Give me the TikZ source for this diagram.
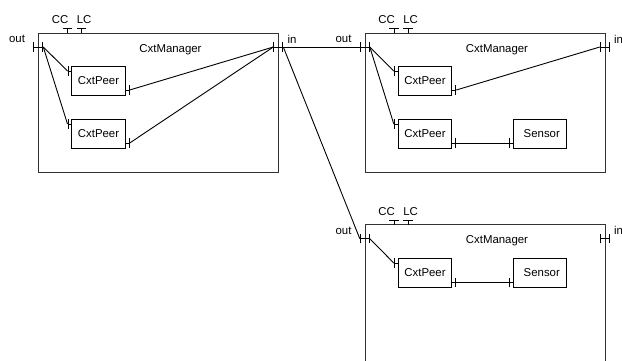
\documentclass[tikz,border=0pt]{standalone}
\usepackage{fontspec}
\setmainfont{Liberation Sans}
\usetikzlibrary{arrows.meta}
\tikzset{
  x=1pt,y=-1pt,
  every node/.style={font=\fontsize{11.4}{13}\selectfont,inner sep=0pt,outer sep=0pt},
  mgrbox/.style={draw=black!80,line width=1pt,minimum width=240pt,anchor=north west},
  peerbox/.style={draw=black,line width=1pt,minimum width=53.3pt,minimum height=29pt},
  wire/.style={line width=0.9pt},
  portbar/.style={line width=0.9pt,{Bar[width=9.5pt,line width=0.9pt]}-{Bar[width=9.5pt,line width=0.9pt]}},
  stub/.style={line width=0.9pt,-{Bar[width=9.5pt,line width=0.9pt]}},
}
\newcommand{\MgrPorts}[3]{% prefix, x of box, y of box
  \coordinate (#1oo) at (#2-5.2,#3+14);
  \coordinate (#1oi) at (#2+4.8,#3+14);
  \coordinate (#1ii) at (#2+234.8,#3+14);
  \coordinate (#1io) at (#2+244.8,#3+14);
  \coordinate (#1cc) at (#2+29,#3-4.7);
  \coordinate (#1lc) at (#2+43.2,#3-4.7);
  \draw[portbar] (#1oo) -- (#1oi);
  \draw[portbar] (#1ii) -- (#1io);
  \draw[stub] (#1cc |- #1.north) -- (#1cc);
  \draw[stub] (#1lc |- #1.north) -- (#1lc);
  \node (#1tcc) at (#2+21.6,#3-13) {CC};
  \node (#1tlc) at (#2+45.6,#3-13) {LC};
  \node (#1tout) at (#2-21.5,#3+6) {out};
  \node (#1tin) at (#2+253.5,#3+6) {in};
  \node (#1title) at (#2+132,#3+16.2) {CxtManager};
}
\newcommand{\Lowered}[1]{\raisebox{-0.8pt}{#1}}
\begin{document}
\begin{tikzpicture}
\useasboundingbox (0,0) rectangle (622,360);
\clip (0,0) rectangle (622,360);
% managers
\node[mgrbox,minimum height=139pt] (A) at (38.5,33) {};
\node[mgrbox,minimum height=139pt] (B) at (365,33) {};
\node[mgrbox,minimum height=160pt] (C) at (365,224.7) {};
\MgrPorts{A}{38.5}{33}
\MgrPorts{B}{365}{33}
\MgrPorts{C}{365}{224.7}
% peers
\node[peerbox] (p1) at (98.5,80.5) {\Lowered{CxtPeer}};
\node[peerbox] (p2) at (98.5,133.5) {\Lowered{CxtPeer}};
\node[peerbox] (p3) at (425,80.5) {\Lowered{CxtPeer}};
\node[peerbox] (p4) at (425,133.5) {\Lowered{CxtPeer}};
\node[peerbox] (s4) at (540.3,133.5) {\hspace*{3pt}\Lowered{Sensor}};
\node[peerbox] (p5) at (425,272.8) {\Lowered{CxtPeer}};
\node[peerbox] (s5) at (540.3,272.8) {\hspace*{3pt}\Lowered{Sensor}};
% peer ports
\coordinate (p1l) at (67.5,71);   \coordinate (p1r) at (129.7,90);
\coordinate (p2l) at (67.5,124);  \coordinate (p2r) at (129.7,143);
\coordinate (p3l) at (393.8,71);  \coordinate (p3r) at (456.3,90);
\coordinate (p4l) at (393.8,124); \coordinate (p4r) at (456.3,143);
\coordinate (s4l) at (509,143);
\coordinate (p5l) at (393.8,263); \coordinate (p5r) at (456.3,282.7);
\coordinate (s5l) at (509,282.7);
\foreach \n/\a in {p1l/p1.west,p1r/p1.east,p2l/p2.west,p2r/p2.east,p3l/p3.west,p3r/p3.east,p4l/p4.west,p4r/p4.east,s4l/s4.west,p5l/p5.west,p5r/p5.east,s5l/s5.west}
  \draw[stub] (\a |- \n) -- (\n);
% connectors
\draw[wire] (Aoi) -- (p1l);
\draw[wire] (Aoi) -- (p2l);
\draw[wire] (p1r) -- (Aii);
\draw[wire] (p2r) -- (Aii);
\draw[wire] (Boi) -- (p3l);
\draw[wire] (Boi) -- (p4l);
\draw[wire] (p3r) -- (Bii);
\draw[wire] (p4r) -- (s4l);
\draw[wire] (Coi) -- (p5l);
\draw[wire] (p5r) -- (s5l);
\draw[wire] (Aio) -- (Boo);
\draw[wire] (Aio) -- (Coo);
\end{tikzpicture}
\end{document}
